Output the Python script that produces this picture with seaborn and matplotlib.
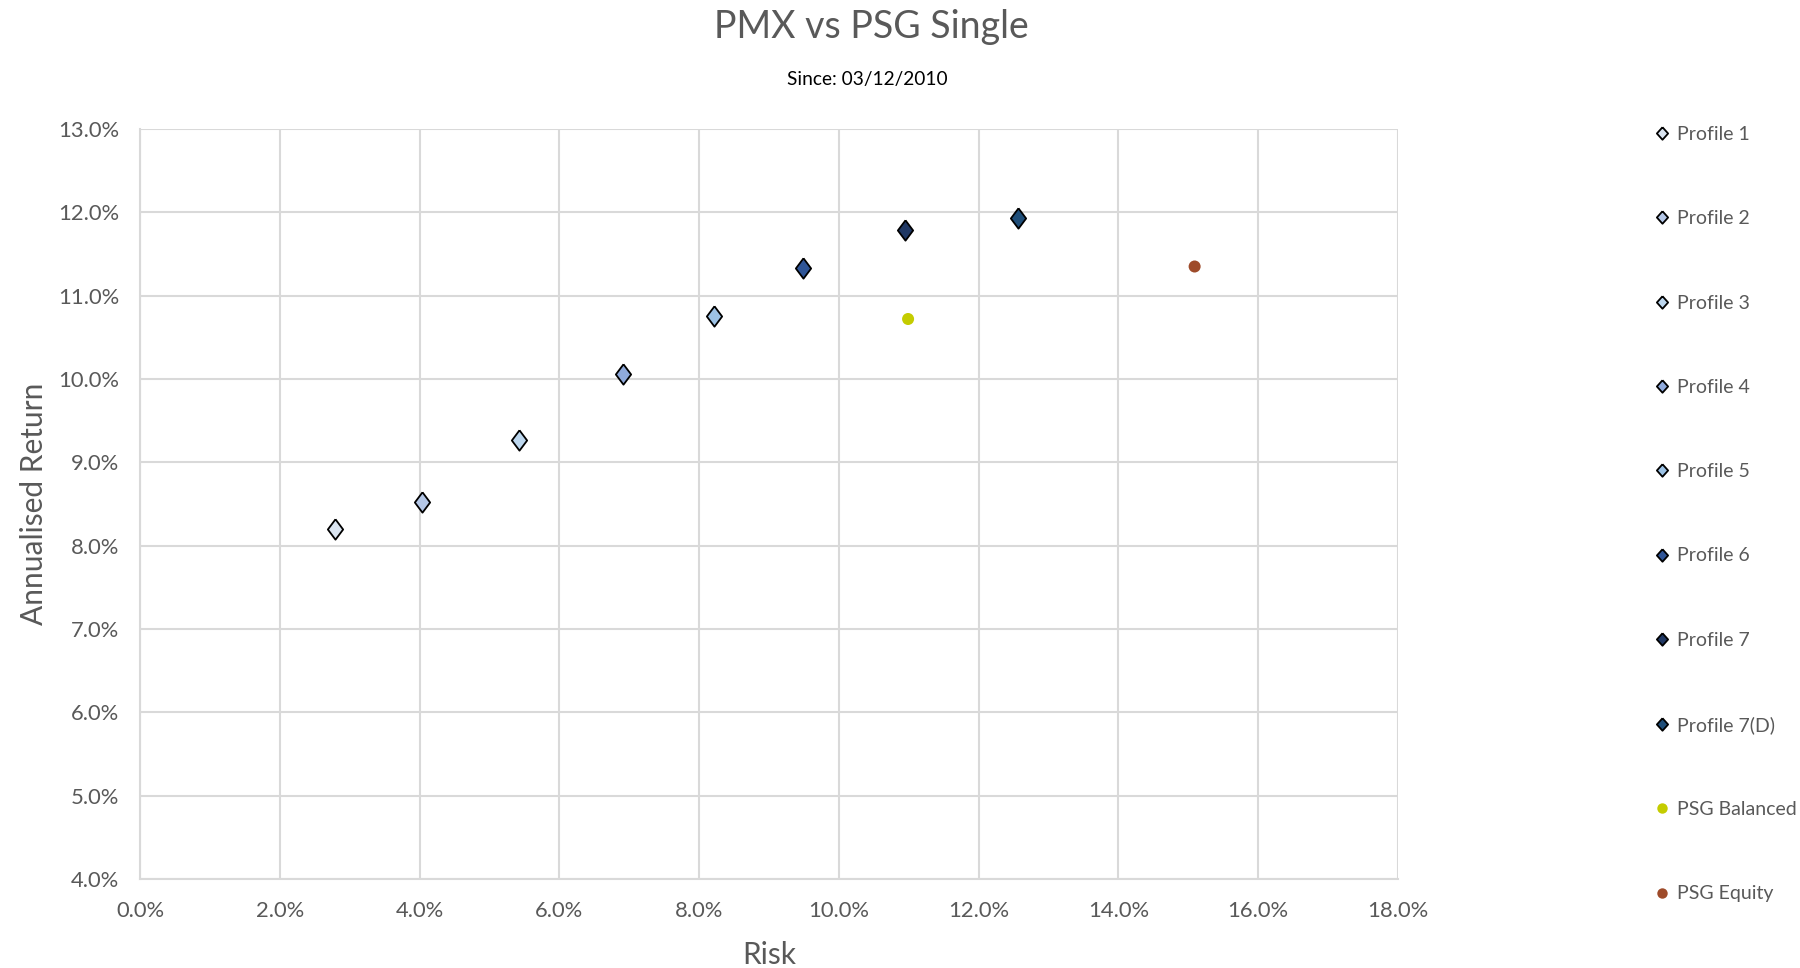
import matplotlib
matplotlib.use("Agg")
import matplotlib.pyplot as plt
import seaborn as sns
import pandas as pd
from matplotlib.ticker import PercentFormatter, MultipleLocator
from matplotlib.lines import Line2D

series = ["Profile 1", "Profile 2", "Profile 3", "Profile 4", "Profile 5",
          "Profile 6", "Profile 7", "Profile 7(D)", "PSG Balanced", "PSG Equity"]
risk = [2.79, 4.04, 5.42, 6.91, 8.21, 9.49, 10.94, 12.56, 10.99, 15.09]
ret = [8.20, 8.53, 9.27, 10.06, 10.76, 11.33, 11.79, 11.93, 10.72, 11.35]
colors = ["#dbe5f1", "#b4c7e7", "#bdd7ee", "#8faadc", "#9dc3e6",
          "#2f5597", "#203864", "#1f4e79", "#c4cc00", "#9e4b2a"]
kinds = ["diamond"] * 8 + ["circle"] * 2

df = pd.DataFrame({"series": series, "risk": risk, "ret": ret})

sns.set_theme(style="white")
plt.rcParams["font.family"] = ["Lato", "DejaVu Sans"]
TXT = "#595959"

fig = plt.figure(figsize=(18, 9.68), dpi=100)
ax = fig.add_axes([140/1800, 1-879/968, (1398-140)/1800, (879-129)/968])

diamond = [(0, 1), (0.75, 0), (0, -1), (-0.75, 0), (0, 1)]
leg_diamond = [(0, 1), (0.9, 0), (0, -1), (-0.9, 0), (0, 1)]
handles = []
for i, name in enumerate(series):
    sub = df[df["series"] == name]
    if kinds[i] == "diamond":
        sns.scatterplot(data=sub, x="risk", y="ret", ax=ax, marker=diamond, s=215,
                        color=colors[i], edgecolor="black", linewidth=1.3, zorder=3, legend=False)
        handles.append(Line2D([], [], linestyle="none", marker=leg_diamond, markersize=9,
                              markerfacecolor=colors[i], markeredgecolor="black", markeredgewidth=1.3))
    else:
        sns.scatterplot(data=sub, x="risk", y="ret", ax=ax, marker="o", s=75,
                        color=colors[i], edgecolor="none", linewidth=0, zorder=3, legend=False)
        handles.append(Line2D([], [], linestyle="none", marker="o", markersize=7.5,
                              markerfacecolor=colors[i], markeredgecolor="none"))

ax.set_xlim(0, 18)
ax.set_ylim(4, 13)
ax.xaxis.set_major_locator(MultipleLocator(2))
ax.yaxis.set_major_locator(MultipleLocator(1))
ax.xaxis.set_major_formatter(PercentFormatter(decimals=1))
ax.yaxis.set_major_formatter(PercentFormatter(decimals=1))
ax.grid(True, color="#d9d9d9", linewidth=1.5)
ax.set_axisbelow(True)
for s in ["top", "right"]:
    ax.spines[s].set_visible(False)
for s in ["left", "bottom"]:
    ax.spines[s].set_color("#d9d9d9")
    ax.spines[s].set_linewidth(1.5)
ax.tick_params(axis="both", length=0, labelsize=15.8, colors=TXT)
ax.tick_params(axis="x", pad=16)
ax.tick_params(axis="y", pad=15)
ax.set_xlabel("Risk", fontsize=21.5, color=TXT, labelpad=14)
ax.set_ylabel("Annualised Return", fontsize=21.5, color=TXT, labelpad=7)

fig.text(0.484, 1-27/968, "PMX vs PSG Single", ha="center", va="center", fontsize=27, color=TXT)
fig.text(0.482, 1-80/968, "Since: 03/12/2010", ha="center", va="center", fontsize=13.8, color="black")

leg = fig.legend(handles, series, loc="upper left", bbox_to_anchor=(1652/1800, 1-126/968),
                 frameon=False, fontsize=14, labelspacing=3.46, handletextpad=0.3,
                 handlelength=1.0, borderaxespad=0, borderpad=0)
for t in leg.get_texts():
    t.set_color(TXT)

fig.savefig("out.png", dpi=100)
